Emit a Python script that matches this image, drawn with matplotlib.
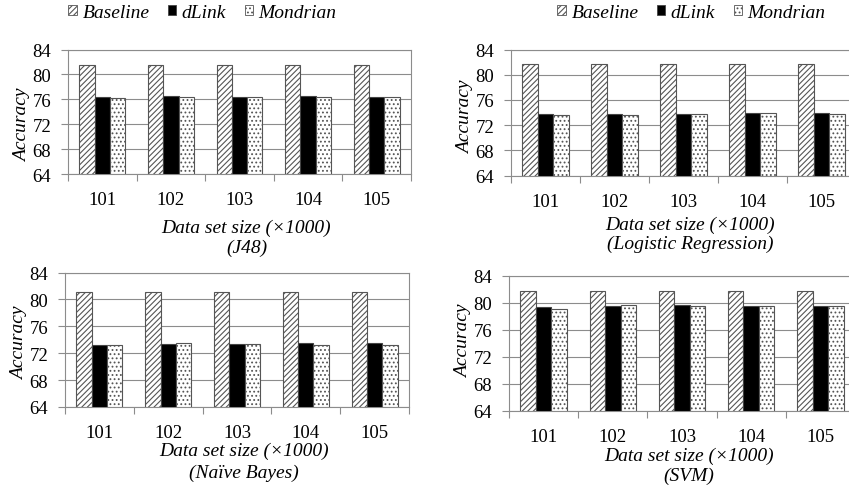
import matplotlib
matplotlib.use("Agg")
import matplotlib.pyplot as plt
import numpy as np
from matplotlib.patches import Patch

plt.rcParams['font.family'] = ['Liberation Serif', 'DejaVu Serif']
plt.rcParams['hatch.linewidth'] = 0.8
plt.rcParams['hatch.color'] = '#333333'

categories = ['101', '102', '103', '104', '105']
series_names = ['Baseline', 'dLink', 'Mondrian']

j48_baseline = [81.5, 81.5, 81.5, 81.5, 81.5]
j48_dlink = [76.4, 76.6, 76.3, 76.6, 76.4]
j48_mondrian = [76.2, 76.4, 76.4, 76.4, 76.4]

lr_baseline = [81.7, 81.7, 81.7, 81.7, 81.7]
lr_dlink = [73.7, 73.7, 73.8, 73.9, 73.9]
lr_mondrian = [73.6, 73.6, 73.7, 74.0, 73.7]

nb_baseline = [81.1, 81.1, 81.1, 81.1, 81.1]
nb_dlink = [73.2, 73.35, 73.35, 73.5, 73.5]
nb_mondrian = [73.2, 73.45, 73.35, 73.25, 73.25]

svm_baseline = [81.7, 81.7, 81.7, 81.7, 81.7]
svm_dlink = [79.45, 79.55, 79.75, 79.55, 79.55]
svm_mondrian = [79.05, 79.65, 79.6, 79.6, 79.6]

yticks = [64, 68, 72, 76, 80, 84]
xlabel = 'Data set size (\u00d71000)'
subtitles = ['(J48)', '(Logistic Regression)', '(Na\u00efve Bayes)', '(SVM)']

W, H = 849, 489
fig = plt.figure(figsize=(W / 100, H / 100), dpi=100)

def px_axes(left, top, right, bottom):
    return fig.add_axes([left / W, 1 - bottom / H, (right - left) / W, (bottom - top) / H])

# (axes, data, subtitle, legend centre x px, xlabel top offset px, line spacing, ylabel centre frac)
panels = [
    (px_axes(68, 50.5, 411, 175), (j48_baseline, j48_dlink, j48_mondrian), subtitles[0], 202.5, 45.0, 1.15, 0.40),
    (px_axes(511, 50.5, 856, 176.5), (lr_baseline, lr_dlink, lr_mondrian), subtitles[1], 691.5, 40.0, 1.15, 0.47),
    (px_axes(65, 273.5, 409, 408), (nb_baseline, nb_dlink, nb_mondrian), subtitles[2], None, 35.0, 1.3, 0.48),
    (px_axes(509, 277, 855, 411.5), (svm_baseline, svm_dlink, svm_mondrian), subtitles[3], None, 36.0, 1.25, 0.52),
]

styles = [
    dict(facecolor='white', hatch='//////', edgecolor='#555555'),
    dict(facecolor='black', hatch=None, edgecolor='#444444'),
    dict(facecolor='white', hatch='....', edgecolor='#555555'),
]

grid_col = '#8c8c8c'
x = np.arange(len(categories))
bw = 0.223

for ax, data, sub, leg_x, xoff, lsp, yfrac in panels:
    for i, (vals, st) in enumerate(zip(data, styles)):
        ax.bar(x + (i - 1) * bw, np.array(vals) - 64, bottom=64, width=bw,
               linewidth=0.8, zorder=3, **st)
    ax.set_xlim(-0.5, len(categories) - 0.5)
    ax.set_ylim(64, 84)
    ax.set_yticks(yticks)
    ax.set_yticklabels([str(t) for t in yticks], fontsize=13.5)
    ax.set_xticks(x)
    ax.set_xticklabels(categories, fontsize=13.5)
    ax.set_xticks(np.arange(len(categories) + 1) - 0.5, minor=True)
    ax.tick_params(axis='x', which='major', length=0, pad=12.5)
    ax.tick_params(axis='x', which='minor', length=5, color=grid_col, width=0.8)
    ax.tick_params(axis='y', length=5, color=grid_col, width=0.8, pad=7)
    ax.grid(axis='y', color=grid_col, linewidth=0.8, zorder=0)
    for s in ax.spines.values():
        s.set_color(grid_col)
        s.set_linewidth(0.8)
    bb = ax.get_position()
    wpx = bb.width * W
    hpx = bb.height * H
    ax.set_ylabel('Accuracy', fontsize=14, style='italic')
    ax.yaxis.set_label_coords(-37.0 / wpx, yfrac)
    ax.set_xlabel(xlabel + '\n' + sub, fontsize=14, style='italic',
                  linespacing=lsp)
    ax.xaxis.set_label_coords(0.5 + 7.0 / wpx, -xoff / hpx)
    ax.xaxis.label.set_va('top')
    if leg_x is not None:
        handles = [Patch(linewidth=0.6, **st) for st in styles]
        fig.legend(handles, series_names, loc='center',
                   bbox_to_anchor=(leg_x / W, 1 - 13.5 / H),
                   ncol=3, frameon=False, prop={'size': 14, 'style': 'italic'},
                   handlelength=0.42, handleheight=0.42, handletextpad=0.3,
                   columnspacing=0.95, borderaxespad=0, borderpad=0)

fig.savefig('out.png', dpi=100)
